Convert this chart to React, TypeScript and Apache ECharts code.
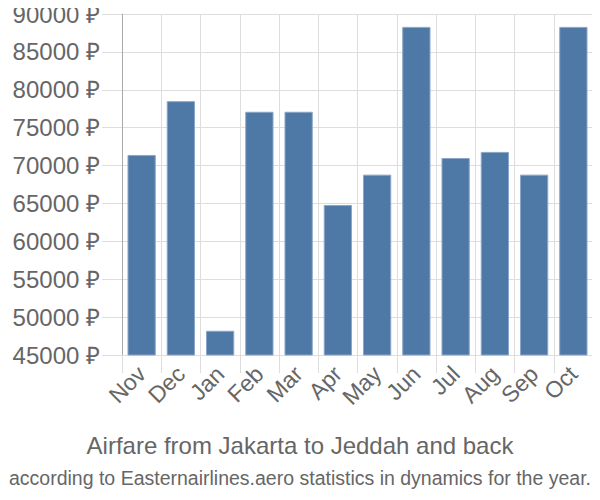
import React, { useEffect, useRef } from "react";
import * as echarts from "echarts";

const months = ["Nov", "Dec", "Jan", "Feb", "Mar", "Apr", "May", "Jun", "Jul", "Aug", "Sep", "Oct"];
const prices = [71400, 78500, 48200, 77100, 77100, 64800, 68800, 88300, 71000, 71800, 68800, 88300];
const titleText = "Airfare from Jakarta to Jeddah and back";
const subtitleText = "according to Easternairlines.aero statistics in dynamics for the year.";

export default function App() {
  const ref = useRef<HTMLDivElement>(null);
  useEffect(() => {
    if (!ref.current) return;
    const chart = echarts.init(ref.current, null, { renderer: "svg" });
    chart.setOption({
      animation: false,
      grid: { left: 122, right: 7, top: 14, bottom: 145, containLabel: false },
      title: [
        {
          text: titleText,
          left: "center",
          top: 428,
          textStyle: { fontFamily: "Liberation Sans, Arial, sans-serif", fontSize: 24, fontWeight: "normal", color: "#666" },
        },
        {
          text: subtitleText,
          left: "center",
          top: 463,
          textStyle: { fontFamily: "Liberation Sans, Arial, sans-serif", fontSize: 19.5, fontWeight: "normal", color: "#666" },
        },
      ],
      xAxis: {
        type: "category",
        data: months,
        boundaryGap: true,
        axisLine: { lineStyle: { color: "#ddd", width: 1 } },
        axisTick: { show: true, length: 18, interval: 0, lineStyle: { color: "#ddd" } },
        splitLine: { show: true, interval: 0, lineStyle: { color: "#ddd" } },
        axisLabel: {
          interval: 0,
          rotate: 45,
          fontSize: 23,
          color: "#666",
          fontFamily: "Liberation Sans, Arial, sans-serif",
          margin: 15,
        },
      },
      yAxis: {
        type: "value",
        min: 45000,
        max: 90000,
        interval: 5000,
        axisLine: { show: true, lineStyle: { color: "#aaa", width: 1 } },
        axisTick: { show: true, length: 20, lineStyle: { color: "#ddd" } },
        splitLine: { show: true, lineStyle: { color: "#ddd" } },
        axisLabel: {
          fontSize: 24,
          color: "#666",
          fontFamily: "Liberation Sans, Arial, sans-serif",
          margin: 22,
          formatter: (v: number) => `${v} ₽`,
        },
      },
      series: [
        {
          type: "bar",
          data: prices,
          barWidth: "72%",
          itemStyle: { color: "#4e79a7", borderColor: "#8aa6c8", borderWidth: 1 },
        },
      ],
    });
    return () => chart.dispose();
  }, []);
  return <div ref={ref} style={{ width: 600, height: 500, margin: -8 }} />;
}
